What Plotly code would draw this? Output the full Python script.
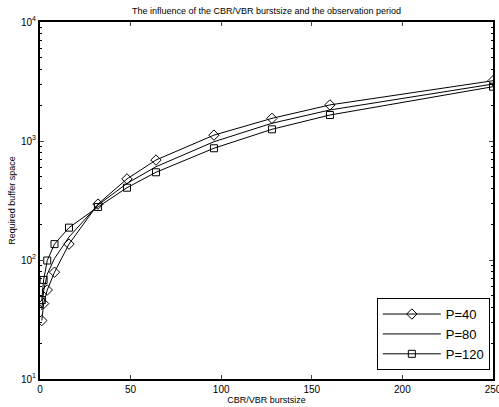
import plotly.graph_objects as go

x_vals = [1, 2, 4, 8, 16, 32, 48, 64, 96, 128, 160, 250]
p40 = [31, 43, 56, 79, 136, 295, 480, 692, 1120, 1550, 2010, 3210]
p80 = [38, 55, 76, 103, 156, 290, 440, 608, 986, 1409, 1823, 3010]
p120 = [46, 68, 99, 136, 187, 279, 405, 546, 869, 1254, 1653, 2860]
series_names = ["P=40", "P=80", "P=120"]
y_tickvals = [10, 100, 1000, 10000]
y_ticktext = ["10<sup>1</sup>", "10<sup>2</sup>", "10<sup>3</sup>", "10<sup>4</sup>"]
x_tickvals = [0, 50, 100, 150, 200, 250]

font_family = "Liberation Sans, Arial, sans-serif"

fig = go.Figure()
fig.add_trace(go.Scatter(x=x_vals, y=p40, name=series_names[0], mode="lines+markers",
                         line=dict(color="black", width=1),
                         marker=dict(symbol="diamond-open", size=8, color="black", line=dict(width=1))))
fig.add_trace(go.Scatter(x=x_vals, y=p80, name=series_names[1], mode="lines",
                         line=dict(color="black", width=1)))
fig.add_trace(go.Scatter(x=x_vals, y=p120, name=series_names[2], mode="lines+markers",
                         line=dict(color="black", width=1),
                         marker=dict(symbol="square-open", size=7, color="black", line=dict(width=1))))

fig.update_layout(
    width=499, height=407,
    margin=dict(l=40, r=6, t=22, b=28, autoexpand=False),
    paper_bgcolor="white", plot_bgcolor="white",
    font=dict(family=font_family, size=10, color="black"),
    title=dict(text="The influence of the CBR/VBR burstsize and the observation period",
               x=(40 + 493) / 2 / 499, xanchor="center", y=1 - 11 / 407, yanchor="middle",
               font=dict(size=9)),
    showlegend=True,
    legend=dict(x=0.993, y=0.025, xanchor="right", yanchor="bottom",
                bgcolor="white", bordercolor="black", borderwidth=1,
                font=dict(size=13), tracegroupgap=0, itemwidth=58),
)
fig.update_xaxes(range=[0, 250], tickvals=x_tickvals, ticks="inside", ticklen=4,
                 showline=True, linecolor="black", linewidth=2, mirror="ticks",
                 showgrid=False, zeroline=False, automargin=False,
                 ticklabeloverflow="allow",
                 title=dict(text="CBR/VBR burstsize", standoff=1, font=dict(size=9)))
fig.update_yaxes(type="log", range=[1, 4], tickvals=y_tickvals, ticktext=y_ticktext,
                 ticks="inside", ticklen=4,
                 minor=dict(ticks="inside", ticklen=2, tickcolor="black",
                            tickvals=[v * m for v in [10, 100, 1000] for m in range(2, 10)]),
                 showline=True, linecolor="black", linewidth=2, mirror="ticks",
                 showgrid=False, zeroline=False, automargin=False,
                 title=dict(text="Required buffer space", standoff=4, font=dict(size=9)))

fig.write_html("out.html")
